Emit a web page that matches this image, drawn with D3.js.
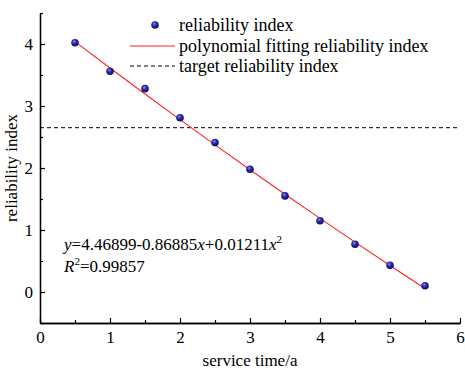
<!doctype html>
<html lang="en">
<head>
    <meta charset="utf-8" />
    <title>Reliability index vs service time</title>
    <style>
        body { margin: 0; background: #fff; }
        svg text { font-family: "Liberation Serif", "Times New Roman", serif; fill: #000; }
    </style>
</head>
<body>
    <svg id="chart"></svg>
    <script src="https://cdn.jsdelivr.net/npm/d3@7/dist/d3.min.js"></script>
    <script>
        // service time (a)
        const years = [0.5, 1, 1.5, 2, 2.5, 3, 3.5, 4, 4.5, 5, 5.5];
        // reliability index
        const reliability = [4.02, 3.56, 3.28, 2.81, 2.41, 1.98, 1.55, 1.15, 0.77, 0.43, 0.10];
        // polynomial fitting values at the same service times
        const fitted = [4.038, 3.612, 3.193, 2.780, 2.373, 1.971, 1.576, 1.187, 0.804, 0.427, 0.057];
        const target = 2.65;
        const xTicks = [0, 1, 2, 3, 4, 5, 6];
        const yTicks = [0, 1, 2, 3, 4];
        const legendLabels = ["reliability index", "polynomial fitting reliability index", "target reliability index"];

        const width = 465, height = 370;
        const margin = {left: 40, right: 5, top: 13, bottom: 47};
        const fs = 17;

        const svg = d3.select("#chart")
            .attr("width", width)
            .attr("height", height);

        const x = d3.scaleLinear().domain([0, 6]).range([margin.left, width - margin.right]);
        const y = d3.scaleLinear().domain([-0.5, 4.5]).range([height - margin.bottom, margin.top]);

        // ball marker gradient
        const grad = svg.append("defs").append("radialGradient")
            .attr("id", "ball")
            .attr("cx", "40%").attr("cy", "35%").attr("r", "60%");
        grad.append("stop").attr("offset", "0%").attr("stop-color", "#8c8cf0");
        grad.append("stop").attr("offset", "45%").attr("stop-color", "#2a2aa8");
        grad.append("stop").attr("offset", "100%").attr("stop-color", "#141460");

        // axes, ticks pointing inward
        svg.append("g")
            .attr("transform", `translate(0,${y(-0.5)})`)
            .call(d3.axisBottom(x).tickValues(d3.range(0.5, 6, 1)).tickSizeInner(-3).tickSizeOuter(0).tickFormat(""));
        svg.append("g")
            .attr("transform", `translate(0,${y(-0.5)})`)
            .call(d3.axisBottom(x).tickValues(xTicks).tickSizeInner(-5).tickSizeOuter(0).tickPadding(8).tickFormat(d3.format("d")));
        svg.append("g")
            .attr("transform", `translate(${x(0)},0)`)
            .call(d3.axisLeft(y).tickValues(d3.range(-0.5, 4.6, 1)).tickSizeInner(-3).tickSizeOuter(0).tickFormat(""));
        svg.append("g")
            .attr("transform", `translate(${x(0)},0)`)
            .call(d3.axisLeft(y).tickValues(yTicks).tickSizeInner(-5).tickSizeOuter(0).tickPadding(7).tickFormat(d3.format("d")));

        svg.selectAll(".domain").attr("stroke", "#000").attr("stroke-width", 1.3);
        svg.selectAll(".tick line").attr("stroke", "#000").attr("stroke-width", 1.2);
        svg.selectAll(".tick text").attr("font-size", fs).attr("font-family", "Liberation Serif");

        // axis titles
        svg.append("text")
            .attr("x", (x(0) + x(6)) / 2)
            .attr("y", 366)
            .attr("text-anchor", "middle")
            .attr("font-size", fs)
            .text("service time/a");
        svg.append("text")
            .attr("transform", `translate(17,${y(2)}) rotate(-90)`)
            .attr("text-anchor", "middle")
            .attr("font-size", fs)
            .text("reliability index");

        // target line
        svg.append("line")
            .attr("x1", x(0)).attr("x2", x(6))
            .attr("y1", y(target)).attr("y2", y(target))
            .attr("stroke", "#000")
            .attr("stroke-width", 1)
            .attr("stroke-dasharray", "4,3");

        // fitted curve
        const line = d3.line().x((d, i) => x(years[i])).y(d => y(d)).curve(d3.curveMonotoneX);
        svg.append("path")
            .datum(fitted)
            .attr("fill", "none")
            .attr("stroke", "#ff2020")
            .attr("stroke-width", 1.1)
            .attr("d", line);

        // points
        svg.append("g")
            .selectAll("circle")
            .data(reliability)
            .join("circle")
            .attr("cx", (d, i) => x(years[i]))
            .attr("cy", d => y(d))
            .attr("r", 3.8)
            .attr("fill", "url(#ball)");

        // legend
        const lg = svg.append("g").attr("font-size", 18);
        const rows = [25, 46, 66];
        lg.append("circle").attr("cx", 155).attr("cy", rows[0]).attr("r", 3.8).attr("fill", "url(#ball)");
        lg.append("line").attr("x1", 130).attr("x2", 175).attr("y1", rows[1]).attr("y2", rows[1])
            .attr("stroke", "#ff2020").attr("stroke-width", 1.1);
        lg.append("line").attr("x1", 130).attr("x2", 175).attr("y1", rows[2]).attr("y2", rows[2])
            .attr("stroke", "#000").attr("stroke-width", 1).attr("stroke-dasharray", "4,3");
        lg.selectAll("text")
            .data(legendLabels)
            .join("text")
            .attr("x", 179)
            .attr("y", (d, i) => rows[i] + 6)
            .text(d => d);

        // equation
        const eq = svg.append("text").attr("x", 64).attr("y", 250).attr("font-size", 17);
        eq.append("tspan").attr("font-style", "italic").text("y");
        eq.append("tspan").text("=4.46899-0.86885");
        eq.append("tspan").attr("font-style", "italic").text("x");
        eq.append("tspan").text("+0.01211");
        eq.append("tspan").attr("font-style", "italic").text("x");
        eq.append("tspan").attr("font-size", 11).attr("dy", -7).text("2");
        const r2 = svg.append("text").attr("x", 64).attr("y", 272).attr("font-size", 17);
        r2.append("tspan").attr("font-style", "italic").text("R");
        r2.append("tspan").attr("font-size", 11).attr("dy", -7).text("2");
        r2.append("tspan").attr("dy", 7).text("=0.99857");
    </script>
</body>
</html>
